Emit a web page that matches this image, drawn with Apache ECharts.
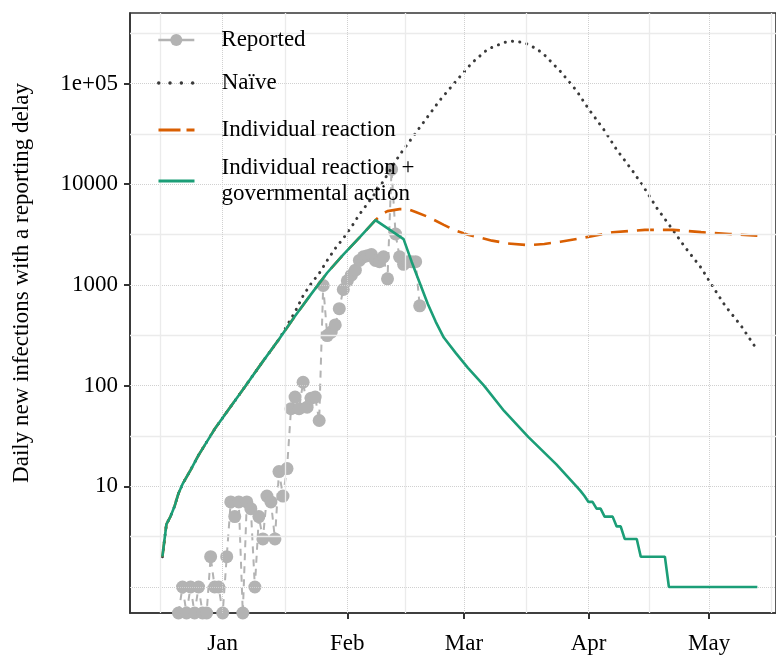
<!DOCTYPE html>
<html><head><meta charset="utf-8">
<script src="https://cdn.jsdelivr.net/npm/echarts@6/dist/echarts.min.js"></script>
<style>html,body{margin:0;padding:0;background:#fff}#c{width:776px;height:659px}</style>
</head><body><div id="c"></div>
<script>
// ---- data (days are offsets from 2020-01-01) ----
const X_TICK_DAYS = [0, 31, 60, 91, 121];
const X_TICK_LABELS = ['Jan', 'Feb', 'Mar', 'Apr', 'May'];
const X_MINOR_GRID_DAYS = [-15.5, 15.5, 45.5, 75.5, 106, 136.5];
const Y_TICK_VALUES = [10, 100, 1000, 10000, 100000];
const Y_TICK_LABELS = ['10', '100', '1000', '10000', '1e+05'];
const Y_MAJOR_GRID = [1, 10, 100, 1000, 10000, 100000];
const Y_MINOR_GRID = [3.162, 31.62, 316.2, 3162, 31623, 316228];

const reportedDays = [-11,-10,-9,-8,-7,-6,-5,-4,-3,-2,-1,0,1,2,3,4,5,6,7,8,9,10,11,12,13,14,15,16,17,18,19,20,21,22,23,24,25,26,27,28,29,30,31,32,33,34,35,36,37,38,39,40,41,42,43,44,45,46,47,48,49];
const reportedValues = [0,1,0,1,0,1,0,0,2,1,1,0,2,7,5,7,0,7,6,1,5,3,8,7,3,14,8,15,59,77,59,108,61,75,77,45,986,314,340,400,580,900,1100,1250,1400,1750,1900,1950,2000,1750,1700,1900,1150,14000,3200,1900,1600,1700,1700,1700,620];

const naiveDays = [-15,-14,-13,-12,-11,-10,-8,-6,-4,-2,0,2,5,10,14,18,20,22,24,26,28,30,32,34,36,39,44,49,54,58,62,66,70,72,75,78,80,84,88,91,95,98,102,105,108,112,115,119,122,125,129,133];
const naiveValues = [2,4.2,5,6.3,8.5,10.5,14.5,20.4,27.5,37,48,62,91,174,288,540,780,1030,1300,1750,2300,2900,3750,5000,6400,9300,19500,36500,68000,105000,160000,220000,255000,263000,255000,222000,193000,132000,85000,56000,34000,22000,13500,9000,5800,3500,2370,1480,950,620,390,225];

const individualDays = [-15,-14,-13,-12,-11,-10,-8,-6,-4,-2,0,2,5,10,14,18,22,26,30,34,38,40,41,44,46,48,51,55,58,61,64,67,71,76,80,84,90,97,105,112,119,126,133];
const individualValues = [2,4.2,5,6.3,8.5,10.5,14.5,20.4,27.5,37,48,62,91,174,288,490,810,1320,2000,2950,4400,5150,5400,5650,5650,5300,4750,3950,3450,3150,2950,2750,2580,2480,2550,2680,2950,3330,3520,3520,3340,3200,3080];

const governmentDays = [-15,-14,-13,-12,-11,-10,-8,-6,-4,-2,0,2,5,10,14,18,22,26,30,34,38,45,47,49,51,53,55,58,61,65,70,76,83,88,89,90,91,92,93,94,95,97,98,99,100,103,104,110,111,133];
const governmentValues = [2,4.2,5,6.3,8.5,10.5,14.5,20.4,27.5,37,48,62,91,174,288,490,810,1320,2000,2950,4400,2850,1700,1050,650,430,300,210,150,100,56,31,16.5,10,9,8,7,7,6,6,5,5,4,4,3,3,2,2,1,1];

// ---- helpers ----
const DAY = 86400000;
const T0 = Date.UTC(2020, 0, 1);
const ts = d => T0 + d * DAY;
const X_MIN = ts(-23.06), X_MAX = ts(137.64);
const Y_MIN = 0.552, Y_MAX = 501000;
const pairs = (days, vals) => days.map((d, i) => [ts(d), vals[i] > 0 ? vals[i] : Y_MIN]);

const FONT = 'Liberation Serif';
const chart = echarts.init(document.getElementById('c'), null, {renderer: 'canvas'});

const gridLines = [];
Y_MAJOR_GRID.forEach(v => gridLines.push({yAxis: v, lineStyle: {type: 'dotted', color: '#d0d0d0', width: 1}}));
Y_MINOR_GRID.forEach(v => gridLines.push({yAxis: v, lineStyle: {type: 'solid', color: '#ebebeb', width: 1.3}}));
X_TICK_DAYS.forEach(d => gridLines.push({xAxis: ts(d), lineStyle: {type: 'dotted', color: '#d0d0d0', width: 1}}));
X_MINOR_GRID_DAYS.forEach(d => gridLines.push({xAxis: ts(d), lineStyle: {type: 'solid', color: '#ebebeb', width: 1.3}}));

function legendAt(name, top, extra) {
  return Object.assign({
    data: [name], left: 157, top: top, orient: 'vertical', padding: 0,
    itemWidth: 36, itemHeight: 13, itemGap: 0, z: 20,
    selectedMode: false,
    textStyle: {fontFamily: FONT, fontSize: 23, color: '#000', lineHeight: 26, padding: [0, 0, 0, 22]}
  }, extra || {});
}

const option = {
  animation: false,
  backgroundColor: '#fff',
  grid: {left: 130, top: 13, right: 0, bottom: 46, show: true, borderColor: '#333', borderWidth: 1.6, containLabel: false},
  xAxis: {
    type: 'value', min: X_MIN, max: X_MAX,
    axisLine: {show: true, lineStyle: {color: '#333', width: 1.6}},
    axisTick: {show: true, length: 6, lineStyle: {color: '#333', width: 2}, customValues: X_TICK_DAYS.map(ts)},
    axisLabel: {
      customValues: X_TICK_DAYS.map(ts), margin: 19,
      fontFamily: FONT, fontSize: 23, color: '#000',
      formatter: v => { const i = X_TICK_DAYS.findIndex(d => Math.abs(ts(d) - v) < DAY / 2); return i >= 0 ? X_TICK_LABELS[i] : ''; }
    },
    splitLine: {show: false}
  },
  yAxis: {
    type: 'log', logBase: 10, min: Y_MIN, max: Y_MAX,
    axisLine: {show: true, lineStyle: {color: '#333', width: 1.6}},
    axisTick: {show: true, length: 6, lineStyle: {color: '#333', width: 2}, customValues: Y_TICK_VALUES},
    axisLabel: {
      customValues: Y_TICK_VALUES, margin: 12,
      fontFamily: FONT, fontSize: 23, color: '#000',
      formatter: v => { const i = Y_TICK_VALUES.findIndex(t => Math.abs(Math.log10(t) - Math.log10(v)) < 0.01); return i >= 0 ? Y_TICK_LABELS[i] : ''; }
    },
    splitLine: {show: false}
  },
  legend: [
    legendAt('Reported', 27, {itemHeight: 15, lineStyle: {type: 'solid', width: 2.6}}),
    legendAt('Naïve', 70, {itemStyle: {opacity: 0}, lineStyle: {type: [0.1, 11.2], width: 3.4, cap: 'round'}}),
    legendAt('Individual reaction', 117, {itemStyle: {opacity: 0}, lineStyle: {type: [22, 6], width: 3}}),
    legendAt('Individual reaction +\ngovernmental action', 155, {itemStyle: {opacity: 0}, lineStyle: {type: 'solid', width: 3}})
  ],
  graphic: [{
    type: 'text', x: 22, y: 283, rotation: Math.PI / 2, z: 10,
    style: {text: 'Daily new infections with a reporting delay', fontFamily: FONT, fontSize: 23, fill: '#000', align: 'center', verticalAlign: 'middle'}
  }],
  series: [
    {
      name: '_grid', type: 'line', data: [], z: 0, silent: true,
      markLine: {silent: true, symbol: 'none', label: {show: false}, animation: false, data: gridLines}
    },
    {
      name: 'Reported', type: 'line', z: 2,
      data: pairs(reportedDays, reportedValues),
      symbol: 'circle', symbolSize: 13, showSymbol: true,
      itemStyle: {color: '#b3b3b3'},
      lineStyle: {color: '#b3b3b3', width: 2, type: [7, 6]}
    },
    {
      name: 'Naïve', type: 'line', z: 3, symbol: 'none',
      data: pairs(naiveDays, naiveValues),
      itemStyle: {color: '#3a3a3a'},
      lineStyle: {color: '#3a3a3a', width: 3, type: [0.1, 7.2], cap: 'round'}
    },
    {
      name: 'Individual reaction', type: 'line', z: 4, symbol: 'none',
      data: pairs(individualDays, individualValues),
      itemStyle: {color: '#d95f02'},
      lineStyle: {color: '#d95f02', width: 2.6, type: [17, 9]}
    },
    {
      name: 'Individual reaction +\ngovernmental action', type: 'line', z: 5, symbol: 'none',
      data: pairs(governmentDays, governmentValues),
      itemStyle: {color: '#1b9e77'},
      lineStyle: {color: '#1b9e77', width: 2.6}
    }
  ]
};
chart.setOption(option);
</script></body></html>
